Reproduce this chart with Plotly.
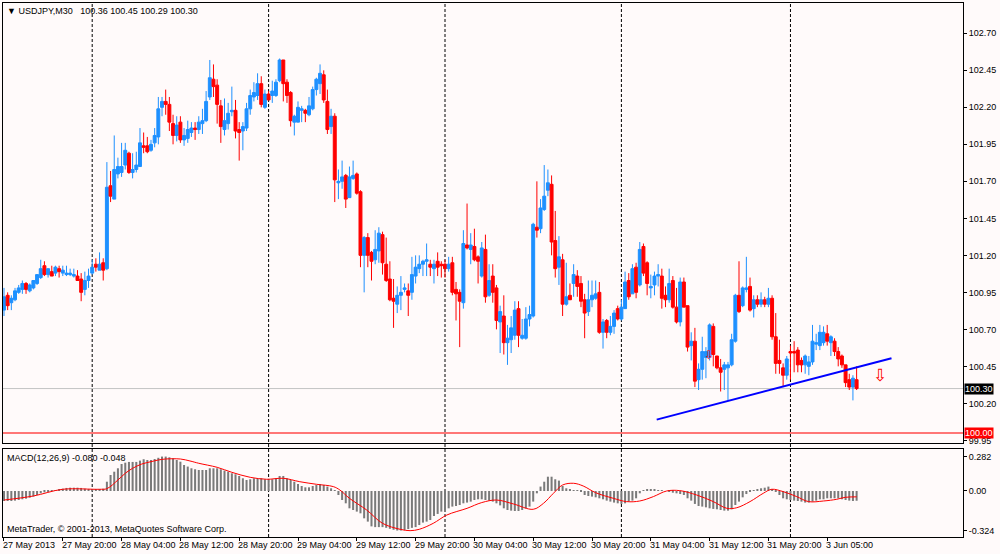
import plotly.graph_objects as go
from plotly.subplots import make_subplots

# === USDJPY M30 candles, bar 0 = 27 May 2013 12:00 ===
opens = [
    100.83, 100.93, 100.88, 100.90, 100.95, 100.97, 101.01, 100.96, 100.98, 101.01,
    101.05, 101.13, 101.07, 101.09, 101.08, 101.11, 101.08, 101.07, 101.07, 101.06,
    101.06, 101.04, 100.97, 101.03, 101.08, 101.14, 101.10, 101.15, 101.11, 101.67,
    101.58, 101.75, 101.76, 101.81, 101.89, 101.76, 101.78, 101.80, 101.94, 101.94,
    101.91, 101.96, 102.00, 102.20, 102.24, 102.22, 102.09, 102.01, 102.10, 101.98,
    101.99, 102.03, 102.06, 102.05, 102.09, 102.11, 102.27, 102.39, 102.35, 102.21,
    102.05, 102.09, 102.17, 102.18, 102.05, 102.04, 102.06, 102.19, 102.27, 102.28,
    102.36, 102.20, 102.29, 102.28, 102.28, 102.38, 102.52, 102.37, 102.30, 102.10,
    102.10, 102.18, 102.18, 102.15, 102.19, 102.32, 102.36, 102.42, 102.24, 102.07,
    102.14, 101.69, 101.70, 101.74, 101.59, 101.72, 101.75, 101.63, 101.20, 101.32,
    101.22, 101.17, 101.23, 101.34, 101.14, 101.04, 100.91, 100.87, 100.93, 100.97,
    100.96, 100.95, 101.06, 101.11, 101.14, 101.16, 101.14, 101.11, 101.16, 101.14,
    101.14, 101.11, 101.15, 100.97, 100.95, 100.88, 101.27, 101.24, 101.26, 101.19,
    101.06, 101.24, 100.93, 101.06, 100.98, 100.75, 100.79, 100.61, 100.63, 100.66,
    100.84, 100.64, 100.64, 100.77, 100.79, 101.39, 101.38, 101.51, 101.64, 101.68,
    101.30, 101.12, 101.17, 100.87, 100.93, 101.01, 101.06, 101.01, 100.90, 100.82,
    100.90, 100.91, 100.95, 100.68, 100.76, 100.68, 100.72, 100.84, 100.77, 100.84,
    101.03, 100.94, 101.12, 101.00, 101.26, 101.15, 100.98, 101.00, 101.06, 101.06,
    100.93, 100.90, 101.03, 100.85, 100.75, 101.02, 100.86, 100.59, 100.62, 100.36,
    100.43, 100.51, 100.51, 100.72, 100.52, 100.44, 100.43, 100.44, 100.46, 100.62,
    100.93, 100.86, 100.97, 100.99, 100.84, 100.90, 100.87, 100.90, 100.87, 100.91,
    100.65, 100.49, 100.44, 100.39, 100.55, 100.55, 100.56, 100.49, 100.46, 100.45,
    100.48, 100.60, 100.59, 100.61, 100.67, 100.61, 100.62, 100.55, 100.52, 100.46,
    100.36, 100.31, 100.36,
]
highs = [
    100.98, 100.95, 100.93, 100.98, 101.00, 101.03, 101.02, 101.01, 101.03, 101.07,
    101.17, 101.16, 101.11, 101.13, 101.13, 101.13, 101.13, 101.13, 101.11, 101.11,
    101.10, 101.08, 101.09, 101.11, 101.17, 101.18, 101.22, 101.18, 101.83, 101.77,
    102.01, 101.86, 101.96, 101.96, 101.90, 101.89, 101.90, 102.06, 102.03, 102.00,
    101.98, 102.06, 102.27, 102.27, 102.32, 102.27, 102.15, 102.14, 102.14, 102.06,
    102.11, 102.10, 102.10, 102.14, 102.19, 102.31, 102.52, 102.49, 102.39, 102.25,
    102.26, 102.23, 102.34, 102.25, 102.10, 102.10, 102.23, 102.32, 102.37, 102.43,
    102.41, 102.32, 102.31, 102.38, 102.39, 102.53, 102.52, 102.39, 102.31, 102.15,
    102.24, 102.21, 102.19, 102.27, 102.34, 102.40, 102.49, 102.45, 102.32, 102.19,
    102.16, 101.78, 101.84, 101.75, 101.80, 101.84, 101.76, 101.64, 101.33, 101.35,
    101.23, 101.37, 101.39, 101.36, 101.32, 101.16, 101.04, 100.99, 101.06, 101.01,
    101.01, 101.19, 101.20, 101.20, 101.17, 101.28, 101.17, 101.17, 101.22, 101.16,
    101.17, 101.19, 101.19, 101.02, 100.97, 101.37, 101.55, 101.35, 101.38, 101.20,
    101.29, 101.34, 101.14, 101.14, 101.00, 100.86, 100.93, 100.73, 100.79, 100.89,
    100.89, 100.77, 100.85, 100.86, 101.42, 101.70, 101.58, 101.81, 101.78, 101.74,
    101.50, 101.33, 101.21, 101.15, 101.01, 101.14, 101.10, 101.06, 100.94, 101.03,
    101.03, 101.03, 101.02, 100.77, 100.77, 100.79, 100.83, 100.86, 100.90, 101.09,
    101.08, 101.14, 101.15, 101.29, 101.28, 101.16, 101.07, 101.09, 101.14, 101.11,
    100.99, 101.11, 101.06, 100.98, 101.05, 101.05, 100.86, 100.68, 100.71, 100.47,
    100.65, 100.58, 100.74, 100.74, 100.52, 100.50, 100.48, 100.48, 100.67, 100.94,
    101.16, 100.99, 101.19, 101.05, 100.93, 100.93, 100.95, 100.92, 100.98, 100.93,
    100.81, 100.63, 100.47, 100.52, 100.59, 100.62, 100.58, 100.51, 100.53, 100.52,
    100.73, 100.67, 100.73, 100.72, 100.73, 100.66, 100.64, 100.58, 100.53, 100.46,
    100.40, 100.39, 100.45,
]
lows = [
    100.79, 100.83, 100.83, 100.89, 100.94, 100.94, 100.94, 100.95, 100.97, 101.00,
    101.04, 101.06, 101.05, 101.06, 101.06, 101.05, 101.06, 101.06, 101.06, 101.05,
    101.03, 100.89, 100.93, 100.98, 101.07, 101.09, 101.10, 101.03, 101.10, 101.56,
    101.58, 101.72, 101.73, 101.78, 101.75, 101.72, 101.76, 101.80, 101.89, 101.89,
    101.90, 101.93, 101.95, 102.14, 102.15, 102.04, 101.95, 101.97, 101.96, 101.94,
    101.96, 102.00, 101.98, 102.02, 102.02, 102.10, 102.25, 102.27, 102.09, 101.96,
    102.01, 102.05, 102.14, 101.99, 101.84, 101.91, 102.04, 102.15, 102.24, 102.25,
    102.20, 102.19, 102.25, 102.23, 102.27, 102.37, 102.24, 102.23, 102.07, 102.01,
    102.10, 102.10, 102.10, 102.14, 102.18, 102.28, 102.29, 102.23, 102.02, 102.02,
    101.56, 101.58, 101.65, 101.52, 101.59, 101.71, 101.61, 101.12, 100.95, 101.12,
    101.03, 101.14, 101.15, 101.07, 101.02, 100.89, 100.71, 100.81, 100.83, 100.95,
    100.79, 100.90, 101.01, 101.08, 101.06, 101.06, 101.06, 101.01, 101.06, 101.05,
    101.05, 101.09, 100.93, 100.76, 100.58, 100.84, 101.24, 101.14, 101.16, 101.01,
    101.05, 100.88, 100.92, 100.88, 100.70, 100.54, 100.53, 100.46, 100.54, 100.63,
    100.58, 100.63, 100.63, 100.72, 100.78, 101.32, 101.35, 101.50, 101.60, 101.20,
    101.05, 101.00, 100.79, 100.86, 100.90, 100.92, 100.92, 100.85, 100.64, 100.79,
    100.85, 100.90, 100.67, 100.57, 100.64, 100.66, 100.67, 100.76, 100.76, 100.84,
    100.90, 100.94, 100.91, 100.99, 101.06, 100.93, 100.91, 100.93, 100.99, 100.84,
    100.85, 100.88, 100.84, 100.74, 100.72, 100.85, 100.55, 100.49, 100.31, 100.29,
    100.36, 100.37, 100.49, 100.45, 100.43, 100.28, 100.29, 100.22, 100.45, 100.61,
    100.81, 100.85, 100.95, 100.82, 100.78, 100.85, 100.85, 100.85, 100.85, 100.63,
    100.40, 100.40, 100.31, 100.36, 100.36, 100.41, 100.41, 100.41, 100.40, 100.39,
    100.46, 100.56, 100.56, 100.59, 100.59, 100.52, 100.52, 100.45, 100.44, 100.31,
    100.29, 100.22, 100.29,
]
closes = [
    100.92, 100.86, 100.91, 100.96, 100.98, 101.01, 100.97, 101.00, 101.03, 101.07,
    101.11, 101.07, 101.11, 101.06, 101.12, 101.09, 101.10, 101.08, 101.08, 101.07,
    101.03, 100.95, 101.03, 101.06, 101.12, 101.12, 101.14, 101.10, 101.66, 101.60,
    101.78, 101.80, 101.80, 101.91, 101.76, 101.78, 101.81, 101.96, 101.93, 101.90,
    101.95, 102.01, 102.19, 102.24, 102.22, 102.10, 102.01, 102.08, 101.98, 102.01,
    102.05, 102.06, 102.05, 102.10, 102.11, 102.24, 102.40, 102.34, 102.22, 102.07,
    102.11, 102.16, 102.18, 102.04, 102.03, 102.07, 102.19, 102.28, 102.30, 102.36,
    102.22, 102.29, 102.25, 102.31, 102.37, 102.52, 102.36, 102.28, 102.11, 102.14,
    102.20, 102.19, 102.16, 102.21, 102.32, 102.39, 102.43, 102.25, 102.05, 102.14,
    101.71, 101.70, 101.73, 101.58, 101.73, 101.74, 101.62, 101.20, 101.32, 101.20,
    101.16, 101.24, 101.35, 101.15, 101.03, 100.90, 100.89, 100.93, 100.95, 100.98,
    100.93, 101.07, 101.12, 101.14, 101.16, 101.17, 101.12, 101.14, 101.12, 101.13,
    101.11, 101.14, 100.95, 100.94, 100.89, 101.28, 101.25, 101.27, 101.17, 101.16,
    101.25, 100.92, 101.03, 100.95, 100.76, 100.82, 100.61, 100.64, 100.71, 100.83,
    100.66, 100.66, 100.77, 100.80, 101.41, 101.37, 101.52, 101.60, 101.69, 101.29,
    101.11, 101.19, 100.87, 100.92, 100.90, 101.07, 100.99, 100.89, 100.81, 100.90,
    100.93, 100.94, 100.68, 100.75, 100.68, 100.72, 100.81, 100.77, 100.85, 101.02,
    100.92, 101.11, 100.95, 101.24, 101.08, 101.01, 100.99, 101.06, 101.07, 100.91,
    100.90, 101.01, 100.85, 100.75, 101.02, 100.85, 100.58, 100.62, 100.35, 100.43,
    100.55, 100.55, 100.73, 100.53, 100.44, 100.41, 100.46, 100.46, 100.63, 100.93,
    100.82, 100.98, 100.98, 100.83, 100.90, 100.87, 100.90, 100.87, 100.91, 100.65,
    100.47, 100.47, 100.39, 100.50, 100.54, 100.54, 100.46, 100.46, 100.52, 100.48,
    100.62, 100.61, 100.68, 100.68, 100.62, 100.65, 100.55, 100.50, 100.46, 100.34,
    100.31, 100.37, 100.30,
]

# === MACD(12,26,9) histogram per bar and signal line points ===
macd_hist = [
    -0.082, -0.082, -0.082, -0.079, -0.074, -0.068, -0.063, -0.055, -0.046, -0.033,
    -0.019, -0.011, -0.005, 0.003, 0.008, 0.014, 0.019, 0.025, 0.027, 0.027,
    0.027, 0.025, 0.019, 0.016, 0.016, 0.016, 0.016, 0.019, 0.076, 0.131,
    0.158, 0.186, 0.221, 0.232, 0.238, 0.238, 0.238, 0.249, 0.260, 0.254,
    0.254, 0.262, 0.272, 0.282, 0.282, 0.276, 0.268, 0.254, 0.240, 0.213,
    0.200, 0.186, 0.178, 0.172, 0.172, 0.172, 0.186, 0.186, 0.186, 0.178,
    0.167, 0.158, 0.145, 0.137, 0.123, 0.104, 0.090, 0.096, 0.104, 0.104,
    0.104, 0.096, 0.096, 0.096, 0.104, 0.123, 0.123, 0.104, 0.090, 0.076,
    0.057, 0.041, 0.030, 0.030, 0.041, 0.049, 0.057, 0.049, 0.036, 0.022,
    0.008, -0.033, -0.074, -0.101, -0.142, -0.156, -0.169, -0.183, -0.224, -0.251,
    -0.290, -0.296, -0.296, -0.296, -0.302, -0.310, -0.318, -0.324, -0.324, -0.320,
    -0.312, -0.302, -0.296, -0.279, -0.259, -0.251, -0.238, -0.205, -0.188, -0.169,
    -0.156, -0.142, -0.128, -0.123, -0.115, -0.101, -0.095, -0.087, -0.074, -0.068,
    -0.068, -0.074, -0.079, -0.087, -0.101, -0.118, -0.142, -0.156, -0.161, -0.164,
    -0.164, -0.156, -0.142, -0.128, -0.087, -0.019, 0.036, 0.076, 0.117, 0.117,
    0.096, 0.085, 0.041, 0.022, 0.014, 0.008, 0.008, -0.005, -0.033, -0.041,
    -0.046, -0.052, -0.060, -0.068, -0.079, -0.087, -0.095, -0.101, -0.106, -0.101,
    -0.087, -0.079, -0.060, -0.019, 0.008, 0.014, 0.014, 0.014, 0.008, 0.008,
    0.000, -0.005, -0.014, -0.019, -0.025, -0.033, -0.060, -0.079, -0.106, -0.123,
    -0.128, -0.134, -0.142, -0.147, -0.150, -0.156, -0.161, -0.161, -0.150, -0.115,
    -0.087, -0.052, -0.025, -0.005, 0.008, 0.016, 0.022, 0.027, 0.036, 0.014,
    -0.005, -0.033, -0.060, -0.068, -0.074, -0.079, -0.082, -0.087, -0.095, -0.095,
    -0.087, -0.079, -0.068, -0.068, -0.060, -0.060, -0.060, -0.060, -0.068, -0.074,
    -0.079, -0.082, -0.080,
]
signal_bars = [
    0, 8, 16, 26, 28, 31, 33, 35, 37.5, 40, 42, 44, 48, 50.6, 53, 58, 62, 67,
    71.5, 76, 80.5, 85, 89.6, 91.4, 94, 98.7, 103, 107.8, 110.5, 113, 116.8,
    120.5, 126, 130, 134, 138.6, 144, 146.8, 149.5, 152, 155, 157.6, 161,
    165.8, 169.4, 173, 176.7, 180.3, 183.9, 188.5, 193, 196.7, 199.4, 203,
    206.6, 208.9, 212, 215.7, 218.9, 223, 226.6, 228.9, 232,
]
signal_vals = [
    -0.074, -0.041, 0.014, 0.014, 0.019, 0.090, 0.145, 0.186, 0.221, 0.240,
    0.254, 0.262, 0.262, 0.246, 0.227, 0.194, 0.153, 0.112, 0.096, 0.104,
    0.076, 0.055, 0.036, 0.008, -0.060, -0.156, -0.265, -0.314, -0.325, -0.314,
    -0.265, -0.197, -0.142, -0.095, -0.074, -0.106, -0.150, -0.101, -0.019,
    0.049, 0.063, 0.041, -0.014, -0.060, -0.087, -0.082, -0.046, 0.000, 0.003,
    -0.033, -0.087, -0.142, -0.137, -0.087, -0.019, 0.014, -0.005, -0.046,
    -0.087, -0.082, -0.068, -0.052, -0.048,
]

# === Axis labels / markers ===
tick_bars = [0, 16, 32, 48, 64, 80, 96, 112, 128, 144, 160, 176, 192, 208, 224]
tick_labels = [
    "27 May 2013", "27 May 20:00", "28 May 04:00", "28 May 12:00", "28 May 20:00",
    "29 May 04:00", "29 May 12:00", "29 May 20:00", "30 May 04:00", "30 May 12:00",
    "30 May 20:00", "31 May 04:00", "31 May 12:00", "31 May 20:00", "3 Jun 05:00",
]
separator_bars = [24, 72, 120, 168, 214]
price_ticks = [99.95, 100.20, 100.45, 100.70, 100.95, 101.20, 101.45, 101.70,
               101.95, 102.20, 102.45, 102.70]
macd_ticks = [0.282, 0.0, -0.324]
macd_tick_labels = ["0.282", "0.00", "-0.324"]

level_price = 100.00
trend_bars = [177.6, 241.5]
trend_prices = [100.09, 100.505]
arrow_bars = [191.8, 238.4]
arrow_prices = [100.53, 100.39]

bars = list(range(len(closes)))
BG = "#FFFAFA"
FONT = "Liberation Sans"

# === Subplots ===
fig = make_subplots(rows=2, cols=1, shared_xaxes=True, vertical_spacing=0.01)

fig.add_trace(go.Candlestick(
    x=bars, open=opens, high=highs, low=lows, close=closes,
    increasing=dict(line=dict(color="#1E90FF", width=1), fillcolor="#1E90FF"),
    decreasing=dict(line=dict(color="#FF0000", width=1), fillcolor="#FF0000"),
    whiskerwidth=0, showlegend=False,
), row=1, col=1)

fig.add_trace(go.Bar(
    x=bars, y=macd_hist, width=0.55,
    marker=dict(color="#7A7A7A", line=dict(width=0)),
    showlegend=False,
), row=2, col=1)

fig.add_trace(go.Scatter(
    x=signal_bars, y=signal_vals, mode="lines",
    line=dict(color="#FF0000", width=1, shape="spline"),
    showlegend=False,
), row=2, col=1)

# === Lines and objects ===
for b in separator_bars:
    fig.add_shape(type="line", xref="x", yref="paper", x0=b, x1=b, y0=0, y1=1,
                  line=dict(color="black", width=1, dash="3px,2px"), layer="below")

fig.add_shape(type="line", xref="x domain", yref="y", x0=0, x1=1,
              y0=closes[-1], y1=closes[-1],
              line=dict(color="#C4C4C4", width=1), layer="below")
fig.add_shape(type="line", xref="x domain", yref="y", x0=0, x1=1,
              y0=level_price, y1=level_price,
              line=dict(color="#FF4A4A", width=1.5))
fig.add_shape(type="line", xref="x", yref="y",
              x0=trend_bars[0], y0=trend_prices[0], x1=trend_bars[1], y1=trend_prices[1],
              line=dict(color="#0000FF", width=2))

for b, p, s in zip(arrow_bars, arrow_prices, [12, 17]):
    fig.add_annotation(x=b, y=p, xref="x", yref="y", text="\u21e9", showarrow=False,
                       font=dict(family="DejaVu Sans", size=s, color="#FF0000"))

# === Texts ===
header = "\u25bc USDJPY,M30\u00a0\u00a0 %.2f %.2f %.2f %.2f" % (opens[-1], highs[-1], lows[-1], closes[-1])
fig.add_annotation(x=0, y=1, xref="paper", yref="paper", xanchor="left", yanchor="top",
                   text=header, showarrow=False, xshift=2, yshift=-1,
                   font=dict(family=FONT, size=9, color="black"))
fig.add_annotation(x=0, y=0.1648, xref="paper", yref="paper", xanchor="left", yanchor="top",
                   text="MACD(12,26,9) %.3f %.3f" % (macd_hist[-1], signal_vals[-1]),
                   showarrow=False, xshift=2, yshift=-2,
                   font=dict(family=FONT, size=9, color="black"))
fig.add_annotation(x=0, y=0, xref="paper", yref="paper", xanchor="left", yanchor="bottom",
                   text="MetaTrader, \u00a9 2001-2013, MetaQuotes Software Corp.",
                   showarrow=False, xshift=2, yshift=1,
                   font=dict(family=FONT, size=9, color="black"))

for b, lab in zip(tick_bars, tick_labels):
    fig.add_annotation(x=b, y=0, xref="x2", yref="paper", xanchor="left", yanchor="top",
                       text=lab, showarrow=False, xshift=-3, yshift=-1,
                       font=dict(family=FONT, size=9, color="black"))

fig.add_annotation(x=1, y=closes[-1], xref="paper", yref="y", xanchor="left",
                   text="%.2f" % closes[-1], showarrow=False, xshift=1, bgcolor="black",
                   borderpad=0, font=dict(family=FONT, size=9, color="white"))
fig.add_annotation(x=1, y=level_price, xref="paper", yref="y", xanchor="left",
                   text="%.2f" % level_price, showarrow=False, xshift=1, bgcolor="#FF0000",
                   borderpad=0, font=dict(family=FONT, size=9, color="white"))

# === Axes ===
fig.update_xaxes(range=[-0.27, 260.95], showgrid=False, zeroline=False,
                 showline=True, linecolor="black", linewidth=1, mirror=True)
fig.update_xaxes(showticklabels=False, ticks="", rangeslider_visible=False, row=1, col=1)
fig.update_xaxes(tickvals=tick_bars, ticks="outside", ticklen=3, tickcolor="black",
                 showticklabels=False, row=2, col=1)

fig.update_yaxes(side="right", showgrid=False, zeroline=False, showline=True,
                 linecolor="black", linewidth=1, mirror=True, ticks="outside",
                 ticklen=3, tickcolor="black",
                 tickfont=dict(family=FONT, size=9, color="black"))
fig.update_yaxes(range=[99.932, 102.905], tickvals=price_ticks,
                 ticktext=["%.2f" % p for p in price_ticks], row=1, col=1)
fig.update_yaxes(range=[-0.377, 0.344], tickvals=macd_ticks,
                 ticktext=macd_tick_labels, row=2, col=1)

# === Layout ===
fig.update_layout(
    width=1000, height=554,
    margin=dict(l=3, r=37, t=3, b=17),
    paper_bgcolor=BG, plot_bgcolor=BG,
    yaxis=dict(domain=[0.176, 1]),
    yaxis2=dict(domain=[0, 0.1648]),
    boxgap=0.2, boxgroupgap=0,
    hovermode=False,
    font=dict(family=FONT, size=9, color="black"),
)

# page margin off so the 1000x554 figure fills the window exactly
fig.write_html("out.html", config={"displayModeBar": False},
               post_script="document.body.style.margin='0';")
